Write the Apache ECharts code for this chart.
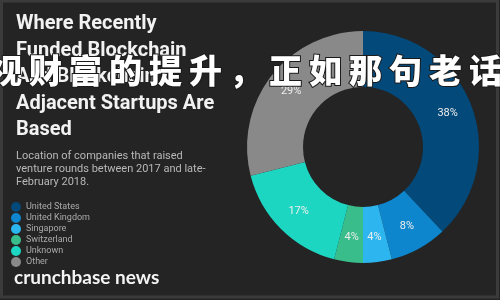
<!DOCTYPE html>
<html>
<head>
<meta charset="utf-8">
<script src="https://cdn.jsdelivr.net/npm/echarts@6/dist/echarts.min.js"></script>
<style>
  html, body { margin: 0; padding: 0; background: #242424; }
  #main { width: 500px; height: 300px; }
</style>
</head>
<body>
<div id="main"></div>
<script>
var countries = ['United States', 'United Kingdom', 'Singapore', 'Switzerland', 'Unknown', 'Other'];
var shares = [38, 8, 4, 4, 17, 29];
var colors = ['#03497a', '#0d86cd', '#2cb5ee', '#39bd8a', '#1dd6c1', '#898989'];
var titleLines = ['Where Recently', 'Funded Blockchain', 'And Blockchain', 'Adjacent Startups Are', 'Based'];
var subLines = ['Location of companies that raised', 'venture rounds between 2017 and late-', 'February 2018.'];
var overlay = '视财富的提升，正如那句老话';

var chart = echarts.init(document.getElementById('main'));

var graphics = [{
  type: 'rect', z: 0,
  shape: { x: 1.5, y: 1, width: 496, height: 296 },
  style: { fill: null, stroke: '#3b3b3b', lineWidth: 3 }
}];
titleLines.forEach(function (t, i) {
  graphics.push({
    type: 'text', left: 16, top: 14 + i * 26.5, z: 5,
    style: { text: t, fill: '#f2f2f2', font: 'bold 20px Roboto, sans-serif' }
  });
});
subLines.forEach(function (t, i) {
  graphics.push({
    type: 'text', left: 16, top: 151 + i * 13, z: 5,
    style: { text: t, fill: '#b8b8b8', font: '11px Roboto, sans-serif' }
  });
});
graphics.push({
  type: 'text', left: 14, top: 268, z: 5,
  style: { text: 'crunchbase news', fill: '#f4f4f4', font: 'bold 19px Lato, sans-serif' }
});
overlay.split('').forEach(function (c, i) {
  graphics.push({
    type: 'text', left: -12 + i * 40, top: 53, z: 100,
    style: {
      text: c, fill: '#ffffff', stroke: '#1a1a1a', lineWidth: 2,
      font: '900 33px "Noto Sans CJK SC", sans-serif'
    }
  });
});

chart.setOption({
  backgroundColor: '#242424',
  color: colors,
  graphic: graphics,
  legend: {
    orient: 'vertical', left: 6, top: 197,
    icon: 'circle', itemWidth: 10, itemHeight: 10, itemGap: 1,
    data: countries,
    textStyle: { color: '#aaaaaa', fontSize: 9, fontFamily: 'Roboto' }
  },
  series: [{
    type: 'pie',
    center: [363, 147],
    radius: [60, 116],
    startAngle: 90,
    clockwise: true,
    label: {
      show: true, position: 'inside', formatter: '{c}%',
      color: '#eeeeee', fontSize: 11, fontFamily: 'Roboto'
    },
    labelLine: { show: false },
    emphasis: { disabled: true },
    data: countries.map(function (n, i) { return { name: n, value: shares[i] }; })
  }]
});
</script>
</body>
</html>
